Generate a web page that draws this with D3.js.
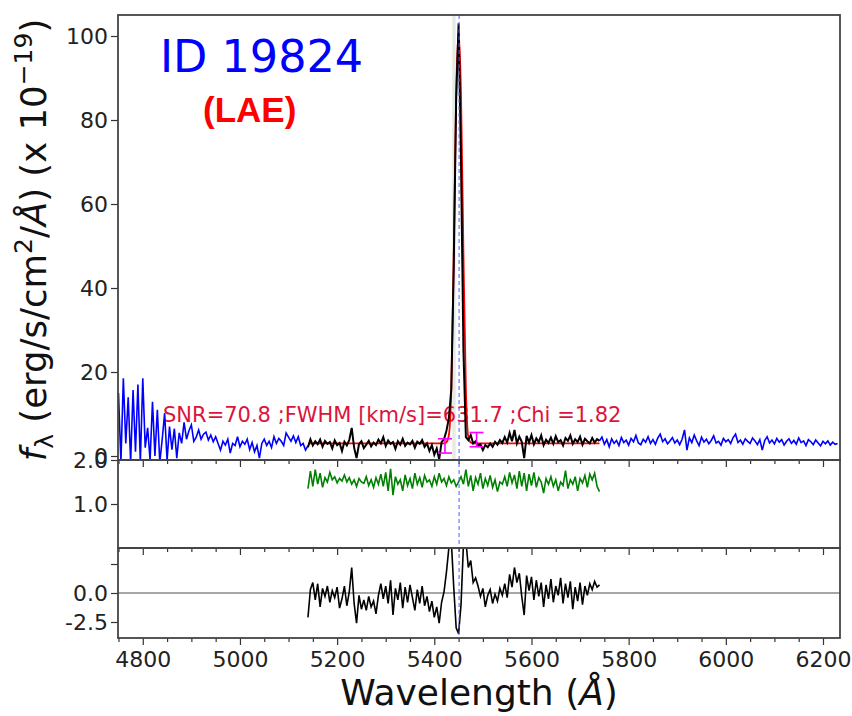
<!DOCTYPE html>
<html>
<head>
<meta charset="utf-8">
<script src="https://cdn.jsdelivr.net/npm/d3@7"></script>
<style>
  body { margin: 0; background: #fff; }
  svg { display: block; font-family: "DejaVu Sans", sans-serif; }
</style>
</head>
<body>
<svg id="chart" width="852" height="716"></svg>
<script>
// Spectrum samples, 5 A apart
const step = 5;

// blue: full spectrum, left of the fitted window (4750 -> 5140)
const blueLeftStart = 4750;
const blueLeft = [15, -1.5, 18.5, 3, 14, -1.5, 15.7, 1, 17, -1.5,
  18.5, 2, 6.7, -1, 12.9, 0, 11, -1.5, 4, 10.2,
  -1, 7, 1.5, 6.5, -0.5, 5.5, 3, 8, 4, 6,
  7.4, 3.5, 4.5, 6.2, 4, 5.2, 5.7, 3.8, 5, 3.4,
  4.6, 3, 1.4, 3.5, 2.6, 4, 0.7, 3, 2.5, 4.6,
  2.2, 3.5, 2.8, 4, 1.5, 3.2, 1, 2.5, -0.5, 3,
  4, 2.5, 3.5, 2, 4.6, 3, 4.2, 3.5, 2.5, 5.5,
  4.5, 3.5, 4.8, 3.2, 4.6, 2.5, 3, 1.4, 2.5];

// blue: right of the fitted window (5740 -> 6230)
const blueRightStart = 5740;
const blueRight = [3.6, 4.5, 2.8, 3.9, 2.2, 4.1, 3, 3.7, 2.5, 4.4,
  3.2, 3.8, 2.6, 4.2, 3.4, 4.9, 3.1, 2.7, 4, 3.3,
  4.6, 3, 3.9, 2.8, 4.3, 5.2, 3.4, 4.1, 2.9, 3.6,
  4.4, 3.1, 3.8, 2.7, 4, 6.2, 1.4, 4.3, 3.2, 5,
  3.6, 2.5, 4.5, 3.3, 4, 2.9, 3.7, 4.8, 3.1, 3.5,
  2.6, 4.2, 3.4, 3.9, 3, 4.4, 5.2, 3.2, 3.8, 2.8,
  4.1, 3.5, 3, 4.3, 3.6, 2.7, 3.9, 1.4, 3.7, 4.6,
  3.1, 3.8, 2.9, 4.2, 3.3, 3.9, 2.6, 3.5, 4.1, 3,
  3.7, 2.8, 4.3, 3.2, 3.6, 2.5, 3.9, 3.4, 2.7, 3.8,
  3.1, 2.4, 3.5, 2.9, 3.6, 2.6, 3.3, 2.8, 3];

// fitted window (5140 -> 5740): data, error ratio, residual
const fitStart = 5140;
const fitData = [2.1, 4, 2.5, 3.5, 2.8, 3.9, 2.2, 3.6, 2.9, 3.3,
  1.8, 3.7, 2.6, 3.1, 1.2, 3.4, 2.5, 3.8, 6.7, 2,
  -0.5, 2.8, 3.5, 1.9, 2.7, 3.6, 2.3, 3.2, 2.6, 3.9,
  3, 4.5, 2.4, 3.7, 2.9, 3.3, 1.7, 3.5, 2.7, 4.1,
  2.4, 3.2, 2.8, 3.6, 2, 3.4, 2.9, 3.8, 2.2, 3,
  1.2, 2.6, 0.3, 1.8, -0.8, 3.3, 4, 6, 9, 16,
  45, 85, 103, 70, 25, 4.5, 3.8, 5, 3, 3.5,
  2.5, 2.8, 1.4, 2.6, 2.1, 3, 2.2, 3.4, 2.7, 3.8,
  3.1, 4.5, 3.2, 5.5, 3.5, 6.2, 3, 4.6, 3.4, -0.5,
  4.8, 3.2, 5, 2.8, 4.2, 3.3, 4.9, 2.6, 3.9, 3.1,
  4.4, 2.9, 4.7, 3.3, 3.8, 2.5, 4.3, 3.6, 4.9, 2.9,
  4, 3.3, 4.6, 2.7, 4.1, 3.5, 3, 4.3, 3.2, 4,
  3.6];
const fitRatio = [1.35, 1.75, 1.4, 1.78, 1.45, 1.7, 1.38, 1.6, 1.5, 1.72,
  1.55, 1.62, 1.48, 1.58, 1.52, 1.66, 1.5, 1.6, 1.45, 1.55,
  1.4, 1.58, 1.5, 1.47, 1.62, 1.42, 1.55, 1.38, 1.6, 1.45,
  1.68, 1.4, 1.72, 1.3, 1.8, 1.2, 1.62, 1.45, 1.55, 1.3,
  1.66, 1.42, 1.58, 1.35, 1.7, 1.45, 1.6, 1.38, 1.65, 1.5,
  1.55, 1.4, 1.62, 1.45, 1.7, 1.5, 1.58, 1.42, 1.62, 1.48,
  1.55, 1.4, 1.5, 1.62, 1.45, 1.78, 1.4, 1.65, 1.3, 1.6,
  1.45, 1.7, 1.35, 1.58, 1.42, 1.65, 1.38, 1.55, 1.28, 1.5,
  1.45, 1.62, 1.4, 1.72, 1.48, 1.66, 1.35, 1.75, 1.4, 1.7,
  1.3, 1.68, 1.42, 1.72, 1.38, 1.6, 1.5, 1.25, 1.58, 1.45,
  1.62, 1.4, 1.55, 1.3, 1.5, 1.42, 1.76, 1.35, 1.55, 1.45,
  1.62, 1.3, 1.58, 1.48, 1.65, 1.38, 1.68, 1.55, 1.7, 1.4,
  1.28];
const fitResid = [-2.1, 0.3, 0.9, -0.6, 0.8, -1.2, 0.4, -0.3, 0.6, -0.8,
  0.2, -0.4, 0.5, -1.3, -0.5, 0.6, -1.1, 0.1, 2.2, -0.9,
  -2.6, -0.2, -1.4, -0.6, -1.5, -0.3, -1.2, -0.7, -1.8, -0.2,
  0.8, -0.5, 0.6, -0.9, 1.1, -1.9, 0.4, -0.6, 0.9, -1.3,
  0.5, -0.8, 0.7, -0.4, -1.5, 0.3, -0.9, 0.6, -1.1, -0.3,
  -1.6, -0.7, -2.1, -1.2, -2.6, -0.8, 0.1, 1.8, 3.9, 4.5,
  0.5, -3, -3.5, -1, 4.2, 4.5, 2.2, 2.8, 0.9, 1.3,
  0.6, -0.3, 0.4, -1.2, -0.2, 0.3, -0.9, -0.1, -0.7, 0.4,
  -0.2, 0.8, -0.4, 1.6, 0.5, 2.2, 0.9, 1.7, -0.3, -1.9,
  1.5, 0.2, 1.4, -0.6, 1.1, -0.3, 0.9, -1.2, 0.7, -0.5,
  1.2, -0.8, 0.6, -0.2, 1.3, -0.9, 0.8, -0.4, 1, -1.4,
  0.5, -0.7, 0.9, -1, 0.6, -0.2, 0.8, 0.3, 1, 0.5,
  0.7];

// red model (continuum + line)
const modelWave = [5140, 5420, 5425, 5430, 5435, 5440, 5445, 5450, 5455, 5460, 5465, 5470, 5475, 5480, 5740];
const modelFlux = [3, 3, 3.3, 5, 16, 48, 86, 101, 86, 48, 16, 4.5, 3.2, 3, 3];

// magenta error bars
const errWave = [5422, 5487];
const errFlux = [2.4, 3.9];
const errSize = [1.7, 1.7];

const lineCenter = 5451;
const bandWave = [5437, 5444];

const mainTicks = [0, 20, 40, 60, 80, 100];
const ratioTicks = [1.0, 2.0];
const residTicks = [-2.5, 0, 2.5];
const xMajor = [4800, 5000, 5200, 5400, 5600, 5800, 6000, 6200];
const xMinor = [4750, 4850, 4900, 4950, 5050, 5100, 5150, 5250, 5300, 5350, 5450, 5500, 5550,
  5650, 5700, 5750, 5850, 5900, 5950, 6050, 6100, 6150];

const title = 'ID 19824';
const tag = '(LAE)';
const stats = 'SNR=70.8 ;FWHM [km/s]=631.7 ;Chi =1.82';

// pair up samples with their wavelengths
const toPts = (start, vals) => vals.map((v, i) => [start + i * step, v]);

const svg = d3.select('#chart');
const L = 118, R = 840;
const panels = { main: [15, 460], ratio: [460, 548], resid: [548, 638] };

const x = d3.scaleLinear().domain([4749, 6235]).range([L, R]);
const yMain = d3.scaleLinear().domain([-0.95, 105]).range([panels.main[1], panels.main[0]]);
const yRatio = d3.scaleLinear().domain([0, 2.0]).range([panels.ratio[1], panels.ratio[0]]);
const yResid = d3.scaleLinear().domain([-3.88, 3.88]).range([panels.resid[1], panels.resid[0]]);

// clip paths for each panel
const defs = svg.append('defs');
Object.entries(panels).forEach(([k, [t, b]]) => {
  defs.append('clipPath').attr('id', 'clip-' + k)
    .append('rect').attr('x', L).attr('y', t).attr('width', R - L).attr('height', b - t);
});

// light grey band near the line
svg.append('rect')
  .attr('x', x(bandWave[0])).attr('width', x(bandWave[1]) - x(bandWave[0]))
  .attr('y', panels.main[0]).attr('height', panels.main[1] - panels.main[0])
  .attr('fill', '#e4ebe4');

// text under the curves
svg.append('text')
  .attr('x', 163).attr('y', 422)
  .attr('font-size', 21).attr('fill', '#dc143c')
  .text(stats);

svg.append('text')
  .attr('x', 160).attr('y', 72)
  .attr('font-size', 44.5).attr('fill', '#0000ff')
  .text(title);

svg.append('text')
  .attr('x', 203).attr('y', 122)
  .attr('font-family', 'Liberation Sans, Arial, sans-serif')
  .attr('font-size', 35).attr('font-weight', 'bold').attr('fill', '#ff0000')
  .text(tag);

// --- main panel ---
const gMain = svg.append('g').attr('clip-path', 'url(#clip-main)');
const lineMain = d3.line().x(d => x(d[0])).y(d => yMain(d[1]));

gMain.append('path').datum(toPts(blueLeftStart, blueLeft))
  .attr('d', lineMain).attr('fill', 'none').attr('stroke', '#0000ff').attr('stroke-width', 1.6);
gMain.append('path').datum(toPts(blueRightStart, blueRight))
  .attr('d', lineMain).attr('fill', 'none').attr('stroke', '#0000ff').attr('stroke-width', 1.6);

gMain.append('path').datum(modelWave.map((w, i) => [w, modelFlux[i]]))
  .attr('d', lineMain.curve(d3.curveMonotoneX)).attr('fill', 'none')
  .attr('stroke', '#ff0000').attr('stroke-width', 1.8);
lineMain.curve(d3.curveLinear);

gMain.append('path').datum(toPts(fitStart, fitData))
  .attr('d', lineMain).attr('fill', 'none').attr('stroke', '#000').attr('stroke-width', 2);

// error bars
errWave.forEach((w, i) => {
  const cx = x(w), y0 = yMain(errFlux[i] - errSize[i]), y1 = yMain(errFlux[i] + errSize[i]);
  const g = gMain.append('g').attr('stroke', '#ff00ff').attr('stroke-width', 1.6);
  g.append('line').attr('x1', cx).attr('x2', cx).attr('y1', y0).attr('y2', y1);
  g.append('line').attr('x1', cx - 7).attr('x2', cx + 7).attr('y1', y0).attr('y2', y0);
  g.append('line').attr('x1', cx - 7).attr('x2', cx + 7).attr('y1', y1).attr('y2', y1);
});

// --- ratio panel ---
svg.append('path').datum(toPts(fitStart, fitRatio))
  .attr('clip-path', 'url(#clip-ratio)')
  .attr('d', d3.line().x(d => x(d[0])).y(d => yRatio(d[1])))
  .attr('fill', 'none').attr('stroke', '#008000').attr('stroke-width', 1.6);

// --- residual panel ---
svg.append('line')
  .attr('x1', L).attr('x2', R).attr('y1', yResid(0)).attr('y2', yResid(0))
  .attr('stroke', '#888').attr('stroke-width', 1.5);

svg.append('path').datum(toPts(fitStart, fitResid))
  .attr('clip-path', 'url(#clip-resid)')
  .attr('d', d3.line().x(d => x(d[0])).y(d => yResid(d[1])))
  .attr('fill', 'none').attr('stroke', '#000').attr('stroke-width', 1.6);

// dashed line through all panels
svg.append('line')
  .attr('x1', x(lineCenter)).attr('x2', x(lineCenter))
  .attr('y1', panels.main[0]).attr('y2', panels.resid[1])
  .attr('stroke', '#4a5cff').attr('stroke-width', 1).attr('stroke-dasharray', '4,3');

// --- axes ---
function styleAxis(g) {
  g.select('.domain').remove();
  g.selectAll('.tick line').attr('stroke', '#333').attr('stroke-width', 1.2);
  g.selectAll('.tick text').attr('font-size', 22).attr('fill', '#222')
    .attr('font-family', 'DejaVu Sans, sans-serif');
}

svg.append('g').attr('transform', `translate(${L},0)`)
  .call(d3.axisLeft(yMain).tickValues(mainTicks).tickSize(7).tickPadding(3).tickFormat(d3.format('d')))
  .call(styleAxis);
svg.append('g').attr('transform', `translate(${L},0)`)
  .call(d3.axisLeft(yRatio).tickValues(ratioTicks).tickSize(7).tickPadding(3).tickFormat(d => d.toFixed(1)))
  .call(styleAxis);
svg.append('g').attr('transform', `translate(${L},0)`)
  .call(d3.axisLeft(yResid).tickValues(residTicks).tickSize(7).tickPadding(3)
    .tickFormat(d => d === 2.5 ? '' : d.toFixed(1)))
  .call(styleAxis);

Object.entries(panels).forEach(([k, [t, b]]) => {
  const last = k === 'resid';
  svg.append('g').attr('transform', `translate(0,${b})`)
    .call(d3.axisBottom(x).tickValues(xMajor).tickSize(7).tickPadding(6)
      .tickFormat(last ? d3.format('d') : () => ''))
    .call(styleAxis);
  svg.append('g').attr('transform', `translate(0,${b})`)
    .call(d3.axisBottom(x).tickValues(xMinor).tickSize(4).tickFormat(() => ''))
    .call(styleAxis);
});

// panel frames
Object.values(panels).forEach(([t, b]) => {
  svg.append('rect').attr('x', L).attr('y', t).attr('width', R - L).attr('height', b - t)
    .attr('fill', 'none').attr('stroke', '#444').attr('stroke-width', 1.8);
});

// axis titles
const yl = svg.append('text')
  .attr('transform', 'translate(46,240) rotate(-90)')
  .attr('text-anchor', 'middle').attr('font-size', 35.5).attr('fill', '#111');
yl.append('tspan').text('f').attr('font-style', 'italic');
yl.append('tspan').text('λ').attr('font-size', 25).attr('dy', 7);
yl.append('tspan').text(' (erg/s/cm').attr('dy', -7);
yl.append('tspan').text('2').attr('font-size', 25).attr('dy', -14);
yl.append('tspan').text('/').attr('dy', 14);
yl.append('tspan').text('Å').attr('font-style', 'italic');
yl.append('tspan').text(') (x 10');
yl.append('tspan').text('−19').attr('font-size', 25).attr('dy', -14);
yl.append('tspan').text(')').attr('dy', 14);

const xl = svg.append('text')
  .attr('x', (L + R) / 2).attr('y', 705)
  .attr('text-anchor', 'middle').attr('font-size', 36).attr('fill', '#111');
xl.append('tspan').text('Wavelength (');
xl.append('tspan').text('Å').attr('font-style', 'italic');
xl.append('tspan').text(')');
</script>
</body>
</html>
